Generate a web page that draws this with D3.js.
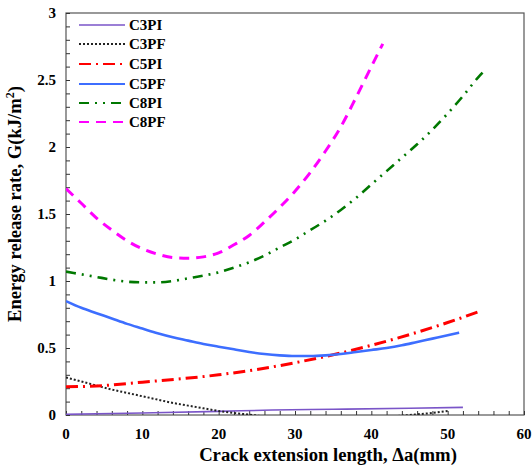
<!DOCTYPE html>
<html>
<head>
	<script src="https://d3js.org/d3.v7.min.js"></script>
	<style>
		body { margin: 0; background: #fff; }
		text { font-family: "Liberation Serif", "Times New Roman", serif; font-weight: bold; }
	</style>
</head>
<body>
<div id="chart"></div>
<script>
var seriesNames = ["C3PI", "C3PF", "C5PI", "C5PF", "C8PI", "C8PF"];

var c3piX = [0, 10, 20, 27, 35, 45, 52];
var c3piY = [0.005, 0.015, 0.027, 0.037, 0.043, 0.05, 0.057];

var c3pfX = [0, 2, 4, 6, 8, 10, 12, 14, 16, 18, 20, 22, 24, 26, 30, 35, 40, 44, 46, 48, 50];
var c3pfY = [0.28, 0.25, 0.22, 0.19, 0.165, 0.14, 0.115, 0.09, 0.07, 0.05, 0.03, 0.015, 0.003, -0.01, -0.02, -0.025, -0.02, -0.005, 0.005, 0.015, 0.03];

var c5piX = [0, 5, 10, 15, 20, 25, 30, 35, 40, 45, 50, 54.5];
var c5piY = [0.21, 0.22, 0.245, 0.27, 0.30, 0.34, 0.39, 0.45, 0.52, 0.60, 0.69, 0.78];

var c5pfX = [0, 2, 4, 6, 8, 10, 12, 14, 16, 18, 20, 22, 24, 26, 28, 30, 32, 34, 36, 38, 40, 42, 44, 46, 48, 50, 51.5];
var c5pfY = [0.85, 0.80, 0.76, 0.72, 0.68, 0.645, 0.61, 0.58, 0.555, 0.53, 0.51, 0.49, 0.47, 0.455, 0.445, 0.44, 0.44, 0.445, 0.455, 0.47, 0.485, 0.50, 0.52, 0.545, 0.57, 0.595, 0.615];

var c8piX = [0, 2, 4, 6, 8, 10, 12, 14, 16, 18, 20, 22, 24, 26, 28, 30, 32, 34, 36, 38, 40, 42, 44, 46, 48, 50, 52, 54, 55];
var c8piY = [1.07, 1.05, 1.03, 1.01, 0.995, 0.99, 0.99, 1.0, 1.02, 1.04, 1.065, 1.10, 1.14, 1.19, 1.25, 1.31, 1.38, 1.45, 1.53, 1.62, 1.72, 1.82, 1.92, 2.02, 2.13, 2.25, 2.38, 2.52, 2.58];

var c8pfX = [0, 2, 4, 6, 8, 10, 12, 14, 16, 18, 20, 22, 24, 26, 28, 30, 32, 34, 36, 38, 40, 41.5];
var c8pfY = [1.69, 1.58, 1.47, 1.38, 1.30, 1.24, 1.20, 1.175, 1.17, 1.18, 1.21, 1.27, 1.34, 1.44, 1.55, 1.67, 1.81, 1.97, 2.15, 2.37, 2.60, 2.77];

var xTicks = [0, 10, 20, 30, 40, 50, 60];
var yTicks = [0, 0.5, 1, 1.5, 2, 2.5, 3];

var colors = ["#7a55c8", "#222222", "#ff0000", "#3d6eff", "#007800", "#ff00ff"];
var dashes = [null, "2,2", "12,5,2,5", null, "10,6,2,6,2,6", "10,7"];
var widths = [1.6, 2, 3, 2.6, 2.6, 3];

var series = [
	[c3piX, c3piY], [c3pfX, c3pfY], [c5piX, c5piY],
	[c5pfX, c5pfY], [c8piX, c8piY], [c8pfX, c8pfY]
].map(function(s, i) {
	return { name: seriesNames[i], pts: s[0].map(function(x, j) { return [x, s[1][j]]; }) };
});

var width = 532, height = 466;
var pLeft = 66, pRight = 524, pTop = 13, pBottom = 415;

var svg = d3.select("#chart").append("svg")
	.attr("width", width)
	.attr("height", height);

var x = d3.scaleLinear().domain([0, 60]).range([pLeft, pRight]);
var y = d3.scaleLinear().domain([0, 3]).range([pBottom, pTop]);

svg.append("clipPath").attr("id", "clip")
	.append("rect")
	.attr("x", pLeft).attr("y", pTop)
	.attr("width", pRight - pLeft).attr("height", pBottom - pTop);

// frame
svg.append("rect")
	.attr("x", pLeft).attr("y", pTop)
	.attr("width", pRight - pLeft).attr("height", pBottom - pTop)
	.attr("fill", "none")
	.attr("stroke", "#555")
	.attr("stroke-width", 1.2);

// inward ticks
var xMinor = d3.range(0, 61, 2);
svg.append("g")
	.attr("transform", "translate(0," + pBottom + ")")
	.call(d3.axisTop(x).tickValues(xMinor).tickSize(4).tickFormat(""))
	.call(function(g) { g.select(".domain").remove(); g.selectAll("line").attr("stroke", "#333"); });

var yMinor = d3.range(0, 31).map(function(d) { return d / 10; });
svg.append("g")
	.attr("transform", "translate(" + pLeft + ",0)")
	.call(d3.axisRight(y).tickValues(yMinor).tickSize(4).tickFormat(""))
	.call(function(g) { g.select(".domain").remove(); g.selectAll("line").attr("stroke", "#333"); });

// tick labels
svg.append("g").selectAll("text")
	.data(xTicks).enter().append("text")
	.attr("x", function(d) { return x(d); })
	.attr("y", 439)
	.attr("text-anchor", "middle")
	.style("font-size", "15px")
	.text(function(d) { return d; });

svg.append("g").selectAll("text")
	.data(yTicks).enter().append("text")
	.attr("x", 56)
	.attr("y", function(d) { return y(d) + 5; })
	.attr("text-anchor", "end")
	.style("font-size", "15px")
	.text(function(d) { return d; });

// axis titles
svg.append("text")
	.attr("x", 328).attr("y", 461)
	.attr("text-anchor", "middle")
	.style("font-size", "18.7px")
	.text("Crack extension length, \u0394a(mm)");

var yt = svg.append("text")
	.attr("transform", "translate(21,204) rotate(-90)")
	.attr("text-anchor", "middle")
	.style("font-size", "18.6px");
yt.append("tspan").text("Energy release rate, G(kJ/m");
yt.append("tspan").attr("baseline-shift", "super").style("font-size", "12px").text("2");
yt.append("tspan").text(")");

// lines
var line = d3.line()
	.x(function(d) { return x(d[0]); })
	.y(function(d) { return y(d[1]); })
	.curve(d3.curveMonotoneX);

svg.append("g").attr("clip-path", "url(#clip)")
	.selectAll("path")
	.data(series).enter().append("path")
	.attr("d", function(d) { return line(d.pts); })
	.attr("fill", "none")
	.attr("stroke", function(d, i) { return colors[i]; })
	.attr("stroke-width", function(d, i) { return widths[i]; })
	.attr("stroke-dasharray", function(d, i) { return dashes[i]; });

// legend
var legendY = [25, 44, 64, 84, 103, 122];
var lg = svg.append("g").selectAll("g")
	.data(series).enter().append("g")
	.attr("transform", function(d, i) { return "translate(0," + legendY[i] + ")"; });
lg.append("line")
	.attr("x1", 79).attr("x2", 125)
	.attr("stroke", function(d, i) { return colors[i]; })
	.attr("stroke-width", function(d, i) { return Math.min(widths[i], 2.2); })
	.attr("stroke-dasharray", function(d, i) { return dashes[i]; });
lg.append("text")
	.attr("x", 129).attr("y", 5)
	.style("font-size", "15px")
	.text(function(d) { return d.name; });
</script>
</body>
</html>
